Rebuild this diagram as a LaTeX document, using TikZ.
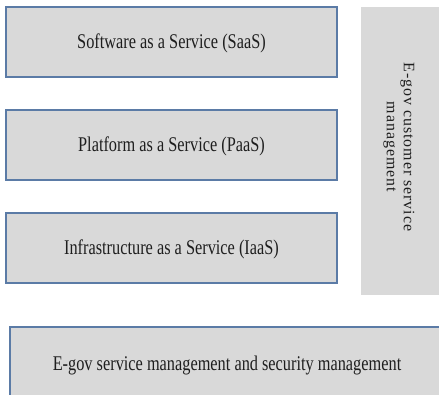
\documentclass[tikz,border=0pt]{standalone}
\usepackage{graphicx}
\usepackage{fontspec}
\setmainfont{Liberation Serif}
\definecolor{boxfill}{HTML}{D9D9D9}
\definecolor{boxedge}{HTML}{5B7BA6}
\definecolor{txt}{HTML}{1E1E1E}
\tikzset{
  layerbox/.style={draw=boxedge, line width=1.3bp, fill=boxfill},
  layertext/.style={text=txt, font=\fontsize{21}{23}\selectfont, inner sep=0pt},
  sidetext/.style={text=txt, font=\addfontfeature{LetterSpace=6}\fontsize{16}{17}\selectfont, align=center, inner sep=0pt, rotate=-90}
}
\begin{document}
\begin{tikzpicture}[x=1bp,y=-1bp]
\useasboundingbox (0,0) rectangle (439,394);
\draw[layerbox] (6,7) rectangle (337,77);
\node[layertext] (saas) at (171.5,43) {\scalebox{0.78}[1]{Software as a Service (SaaS)}};
\draw[layerbox] (6,110) rectangle (337,180);
\node[layertext] (paas) at (171.5,146) {\scalebox{0.78}[1]{Platform as a Service (PaaS)}};
\draw[layerbox] (6,213) rectangle (337,283);
\node[layertext] (iaas) at (171.5,249) {\scalebox{0.78}[1]{Infrastructure as a Service (IaaS)}};
\fill[boxfill] (361,7) rectangle (445,295);
\node[sidetext] (cust) at (399,147) {E-gov customer service\\management};
\fill[boxfill] (10,327) rectangle (445,400);
\draw[draw=boxedge, line width=1.3bp] (445,327) -- (10,327) -- (10,400);
\node[layertext] (sec) at (227,365) {\scalebox{0.78}[1]{E-gov service management and security management}};
\end{tikzpicture}
\end{document}
